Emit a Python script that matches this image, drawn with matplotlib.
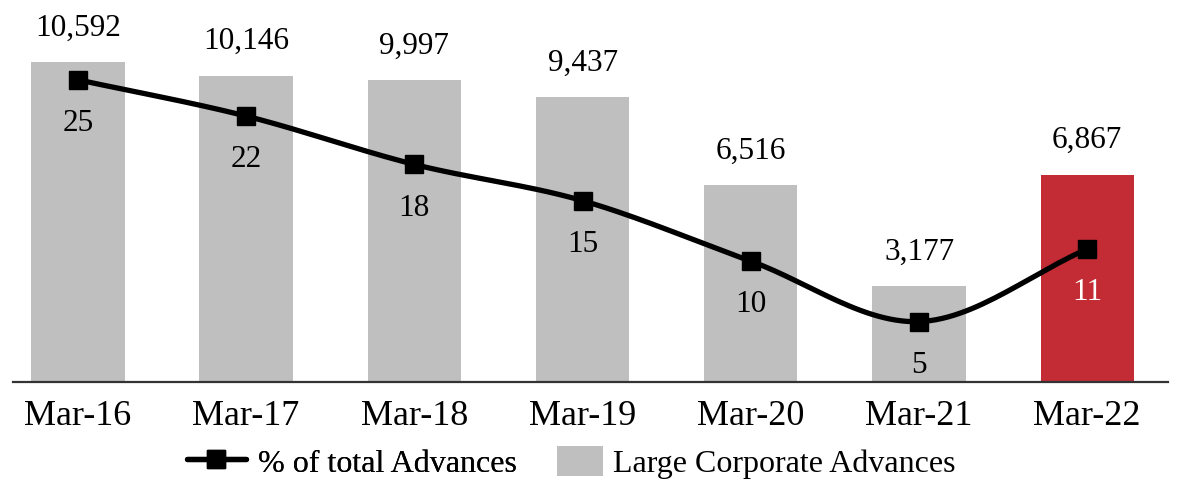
import numpy as np
import matplotlib
matplotlib.use("Agg")
import matplotlib.pyplot as plt
from matplotlib.patches import Patch
from matplotlib.lines import Line2D

categories = ["Mar-16", "Mar-17", "Mar-18", "Mar-19", "Mar-20", "Mar-21", "Mar-22"]
advances = [10592, 10146, 9997, 9437, 6516, 3177, 6867]
pct_total = [25, 22, 18, 15, 10, 5, 11]
bar_colors = ["#BFBFBF"] * 6 + ["#C32B35"]

plt.rcParams["font.family"] = ["Liberation Serif", "DejaVu Serif"]

fig = plt.figure(figsize=(11.78, 4.83), dpi=100)
ax = fig.add_axes([0.011, 0.209, 0.9805, 0.791])
x = np.arange(len(categories))
bars = ax.bar(x, advances, width=0.555, color=bar_colors, zorder=1)
ax.set_xlim(-0.386, 6.48)
ax.set_ylim(0, 12650)
for s in ["top", "right", "left"]:
    ax.spines[s].set_visible(False)
ax.spines["bottom"].set_color("#333333")
ax.spines["bottom"].set_linewidth(1.6)
ax.set_yticks([])
ax.set_xticks(x)
ax.set_xticklabels(categories, fontsize=26)
ax.tick_params(axis="x", length=0, pad=13)
for xi, v in zip(x, advances):
    ax.annotate(f"{v:,}", (xi, v), xytext=(0, 14), textcoords="offset points",
                ha="center", va="bottom", fontsize=22.5, color="black")

ax2 = ax.twinx()
ax2.set_ylim(0, 31.6)
ax2.axis("off")

# smooth curve (Catmull-Rom) through the data points, for drawing only
def catmull(xs, ys, n=30):
    px = np.concatenate([[2 * xs[0] - xs[1]], xs, [2 * xs[-1] - xs[-2]]])
    py = np.concatenate([[2 * ys[0] - ys[1]], ys, [2 * ys[-1] - ys[-2]]])
    ox, oy = [], []
    for i in range(1, len(px) - 2):
        t = np.linspace(0, 1, n)
        for arr, out in ((px, ox), (py, oy)):
            p0, p1, p2, p3 = arr[i - 1], arr[i], arr[i + 1], arr[i + 2]
            out.extend(0.5 * ((2 * p1) + (-p0 + p2) * t +
                              (2 * p0 - 5 * p1 + 4 * p2 - p3) * t ** 2 +
                              (-p0 + 3 * p1 - 3 * p2 + p3) * t ** 3))
    return np.array(ox), np.array(oy)

sx, sy = catmull(x.astype(float), np.array(pct_total, dtype=float))
ax2.plot(sx, sy, color="black", lw=3.8, zorder=3, solid_capstyle="round")
ax2.plot(x, pct_total, ls="none", marker="s", ms=13, color="black", zorder=4)
for i, (xi, v) in enumerate(zip(x, pct_total)):
    ax2.annotate(f"{v}", (xi, v), xytext=(0, -21), textcoords="offset points",
                 ha="center", va="top", fontsize=22.5,
                 color="white" if i == len(x) - 1 else "black")

leg_y = 0.043
leg1 = fig.legend([Line2D([0], [0], color="black", lw=3.8, marker="s", ms=13,
                          solid_capstyle="round")],
                  ["% of total Advances"],
                  loc="center left", bbox_to_anchor=(0.1585, leg_y), frameon=False,
                  fontsize=23, handlelength=1.86, handleheight=1.08,
                  handletextpad=0.38, borderpad=0, borderaxespad=0)
fig.add_artist(leg1)
fig.legend([Patch(facecolor="#BFBFBF")], ["Large Corporate Advances"],
           loc="center left", bbox_to_anchor=(0.473, leg_y), frameon=False,
           fontsize=23, handlelength=1.42, handleheight=1.08, handletextpad=0.33,
           borderpad=0, borderaxespad=0)

fig.savefig("out.png", dpi=100)
